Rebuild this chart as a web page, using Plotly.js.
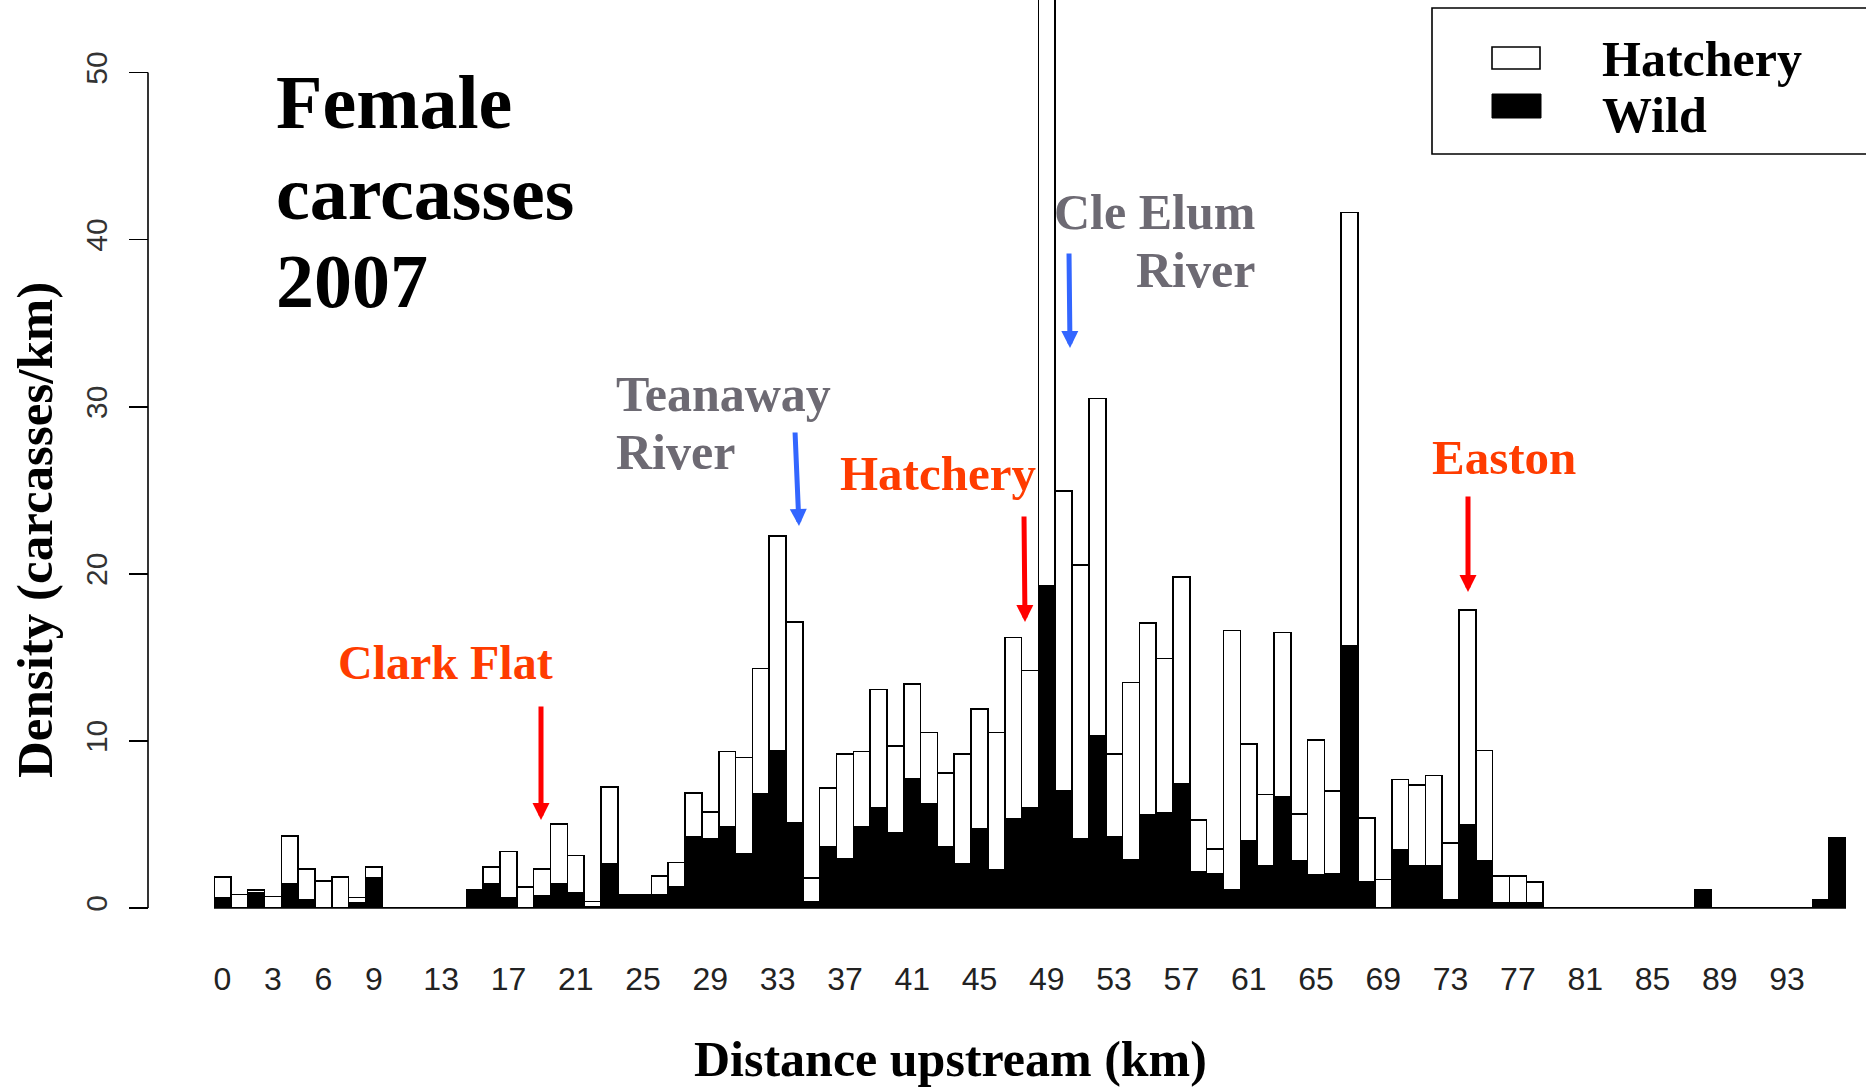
<!DOCTYPE html>
<html>
<head>
<meta charset="utf-8">
<script src="https://cdn.plot.ly/plotly-3.0.1.min.js"></script>
<style>html,body{margin:0;padding:0;background:#fff;}#chart{width:1866px;height:1088px;}</style>
</head>
<body>
<div id="chart"></div>
<script>
// Distance upstream bins (km)
const km = [0,1,2,3,4,5,6,7,8,9,10,11,12,13,14,15,16,17,18,19,20,21,22,23,24,25,26,27,28,29,30,31,32,33,34,35,36,37,38,39,40,41,42,43,44,45,46,47,48,49,50,51,52,53,54,55,56,57,58,59,60,61,62,63,64,65,66,67,68,69,70,71,72,73,74,75,76,77,78,79,80,81,82,83,84,85,86,87,88,89,90,91,92,93,94,95,96];
// Wild carcass density (carcasses/km)
const wild = [0.6,0,0.9,0,1.42,0.5,0,0,0.3,1.8,
  0,0,0,0,0,1.08,1.44,0.64,0,0.72,
  1.44,0.9,0.1,2.63,0.78,0.78,0.78,1.24,4.25,4.17,
  4.83,3.25,6.83,9.38,5.09,0.35,3.67,2.97,4.83,6.0,
  4.53,7.76,6.22,3.69,2.65,4.73,2.29,5.33,6.0,19.27,
  7.04,4.17,10.31,4.27,2.89,5.57,5.69,7.42,2.19,2.07,
  1.1,4.02,2.55,6.66,2.83,1.98,2.04,15.72,1.59,0,
  3.46,2.55,2.55,0.51,4.96,2.83,0.34,0.34,0.34,0,
  0,0,0,0,0,0,0,0,1.1,0,
  0,0,0,0,0,0.5,4.2];
// Hatchery carcass density (carcasses/km), stacked on wild
const hatchery = [1.26,0.82,0.16,0.68,2.89,1.84,1.62,1.86,0.34,0.64,
  0,0,0,0,0,0,1.02,2.75,1.26,1.62,
  3.6,2.25,0.3,4.62,0,0,1.12,1.49,2.64,1.56,
  4.53,5.75,7.5,12.88,12.04,1.43,3.5,6.25,4.53,7.07,
  5.17,5.63,4.29,4.39,6.57,7.18,8.22,10.85,8.22,38.7,
  17.9,16.36,20.19,4.95,10.61,11.47,9.25,12.39,3.08,1.46,
  15.5,5.81,4.25,9.82,2.78,8.07,4.98,25.91,3.79,1.7,
  4.24,4.81,5.38,3.37,12.88,6.6,1.56,1.56,1.22,0,
  0,0,0,0,0,0,0,0,0,0,
  0,0,0,0,0,0,0];
// Tick labels
const xTickVals = [0,3,6,9,13,17,21,25,29,33,37,41,45,49,53,57,61,65,69,73,77,81,85,89,93];
const xTickText = xTickVals.map(String);
const yTickVals = [0,10,20,30,40,50];

const W = 1866, H = 1088;
const ML = 148, MR = 20, MT = 0, MB = 180;
const PW = W - ML - MR, PH = H - MT - MB;
const px = x => (x - ML) / PW;
const py = y => (H - MB - y) / PH;

const serif = 'Liberation Serif';
const RED_T = '#ff3c00', RED_A = '#ff0000', GRAY = '#6d6a73', BLUE = '#3366ff';

const traces = [
  {type:'bar', name:'Wild', x:km, y:wild, width:1, marker:{color:'#000', line:{color:'#000', width:1.6}}, showlegend:false, hoverinfo:'x+y+name'},
  {type:'bar', name:'Hatchery', x:km, y:hatchery, width:1, marker:{color:'#fff', line:{color:'#000', width:1.6}}, showlegend:false, hoverinfo:'x+y+name'}
];

function txt(text, x, y, size, color, anchor) {
  return {text:text, xref:'paper', yref:'paper', x:px(x), y:py(y), xanchor:anchor||'left', yanchor:'middle',
    showarrow:false, font:{family:serif, size:size, color:color, weight:'bold'}};
}
function arrow(xTip, yTip, xTail, yTail, color) {
  return {text:'', xref:'paper', yref:'paper', x:px(xTip), y:py(yTip), ax:xTail-xTip, ay:yTail-yTip,
    showarrow:true, arrowhead:2, arrowsize:0.68, arrowwidth:5, arrowcolor:color, standoff:0};
}

const annotations = [
  txt('Female', 274, 102, 76, '#000'),
  txt('carcasses', 274, 193, 76, '#000'),
  txt('2007', 274, 281, 76, '#000'),
  txt('Clark Flat', 336, 662, 48, RED_T),
  txt('Teanaway', 614, 394, 50, GRAY),
  txt('River', 614, 452, 50, GRAY),
  txt('Hatchery', 838, 474, 49, RED_T),
  txt('Cle Elum', 1257, 212, 50, GRAY, 'right'),
  txt('River', 1257, 270, 50, GRAY, 'right'),
  txt('Easton', 1430, 457, 49, RED_T),
  txt('Hatchery', 1600, 59, 50, '#000'),
  txt('Wild', 1600, 115, 50, '#000'),
  arrow(541, 820, 541, 705, RED_A),
  arrow(799, 526, 795, 431, BLUE),
  arrow(1025, 622, 1024, 515, RED_A),
  arrow(1070, 348, 1069, 252, BLUE),
  arrow(1468, 592, 1468, 495, RED_A),
  {text:'Distance upstream (km)', xref:'paper', yref:'paper', x:px(950), y:py(1059), xanchor:'center', yanchor:'middle',
    showarrow:false, font:{family:serif, size:50, color:'#000', weight:'bold'}},
  {text:'Density (carcasses/km)', xref:'paper', yref:'paper', x:px(35), y:py(530), xanchor:'center', yanchor:'middle',
    textangle:-90, showarrow:false, font:{family:serif, size:51, color:'#000', weight:'bold'}}
];

const shapes = [
  // y axis line 0..50
  {type:'line', xref:'paper', yref:'y', x0:0, x1:0, y0:0, y1:50, line:{color:'#000', width:1.6}},
  // baseline under bars
  {type:'line', xref:'x', yref:'paper', x0:-0.5, x1:96.5, y0:0, y1:0, line:{color:'#000', width:1.6}},
  // legend box
  {type:'rect', xref:'paper', yref:'paper', x0:px(1432), x1:px(1880), y0:py(8), y1:py(154), line:{color:'#000', width:1.6}, fillcolor:'rgba(0,0,0,0)'},
  {type:'rect', xref:'paper', yref:'paper', x0:px(1492), x1:px(1540), y0:py(47), y1:py(69), line:{color:'#000', width:1.6}, fillcolor:'#fff'},
  {type:'rect', xref:'paper', yref:'paper', x0:px(1492), x1:px(1541), y0:py(94), y1:py(118), line:{color:'#000', width:1}, fillcolor:'#000'}
];

const layout = {
  width:W, height:H, margin:{l:ML, r:MR, t:MT, b:MB, pad:0},
  paper_bgcolor:'#fff', plot_bgcolor:'#fff',
  barmode:'stack', bargap:0, showlegend:false,
  xaxis:{domain:[(214-ML)/PW, 1], range:[-0.5, 96.5], tickmode:'array', tickvals:xTickVals, ticktext:xTickText,
    showline:false, showgrid:false, zeroline:false, ticks:'outside', ticklen:43, tickcolor:'rgba(0,0,0,0)',
    tickfont:{family:'Liberation Sans', size:32, color:'#222'}},
  yaxis:{anchor:'free', position:0, range:[0, PH/16.71], tickmode:'array', tickvals:yTickVals,
    showline:false, showgrid:false, zeroline:false, ticks:'outside', ticklen:19, tickwidth:1.6, tickcolor:'#000',
    tickangle:-90, ticklabelstandoff:10, tickfont:{family:'Liberation Sans', size:30, color:'#333'}},
  shapes:shapes, annotations:annotations
};

Plotly.newPlot('chart', traces, layout, {displayModeBar:false, staticPlot:true});
</script>
</body>
</html>
